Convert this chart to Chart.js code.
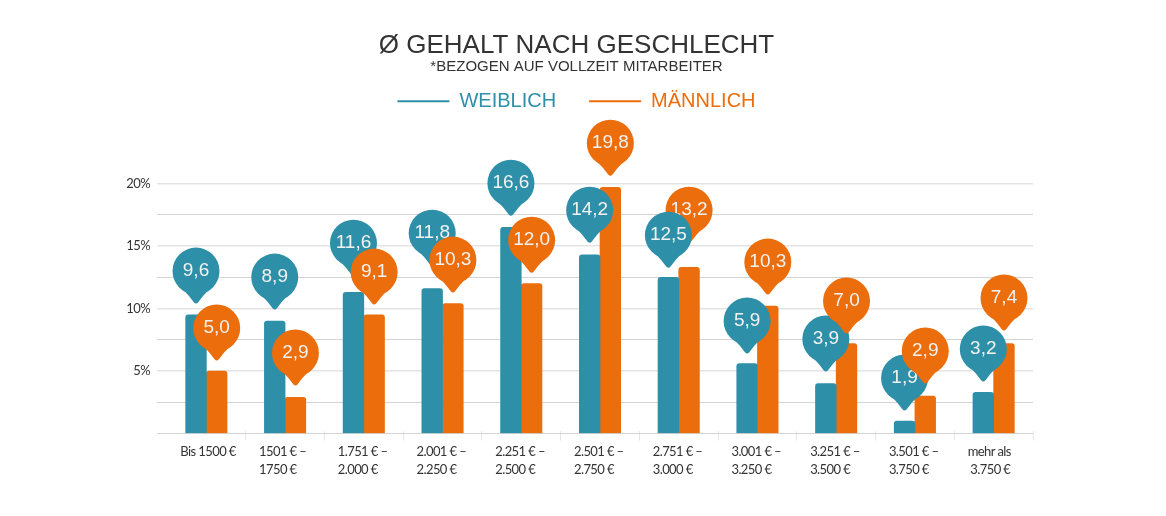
<!DOCTYPE html>
<html><head><meta charset="utf-8">
<style>html,body{margin:0;padding:0;background:#fff}canvas{display:block}</style>
<script src="https://cdn.jsdelivr.net/npm/chart.js@4/dist/chart.umd.min.js"></script>
</head><body>
<canvas id="c" width="1153" height="516"></canvas>
<script>
const categories = [["Bis 1500 €"],["1501 € –","1750 €"],["1.751 € –","2.000 €"],["2.001 € –","2.250 €"],["2.251 € –","2.500 €"],["2.501 € –","2.750 €"],["2.751 € –","3.000 €"],["3.001 € –","3.250 €"],["3.251 € –","3.500 €"],["3.501 € –","3.750 €"],["mehr als","\u00a03.750 €"]];
const weiblichBars = [9.5,9.0,11.3,11.6,16.5,14.3,12.5,5.6,4.0,1.0,3.3];
const maennlichBars = [5.0,2.9,9.5,10.4,12.0,19.7,13.3,10.2,7.2,3.0,7.2];
const weiblichText = ["9,6","8,9","11,6","11,8","16,6","14,2","12,5","5,9","3,9","1,9","3,2"];
const maennlichText = ["5,0","2,9","9,1","10,3","12,0","19,8","13,2","10,3","7,0","2,9","7,4"];
const weiblichPins = [10.36,9.88,12.6,13.4,17.4,15.24,13.24,6.36,4.92,1.8,4.12];
const maennlichPins = [5.8,3.8,10.28,11.24,12.84,20.6,15.24,11.08,7.96,3.96,8.2];
const weiblichOnTop = [6,10];
const BLUE = '#2e8fa9', ORANGE = '#eb6d0b';

function pin(ctx, x, tipY, color, text) {
  const r = 23.5, cy = tipY - 33;
  ctx.save();
  ctx.fillStyle = color;
  ctx.beginPath();
  ctx.arc(x, cy, r, 0, Math.PI * 2);
  ctx.fill();
  ctx.beginPath();
  ctx.moveTo(x - 13, cy + r - 5);
  ctx.quadraticCurveTo(x - 7, cy + r + 1, x - 2, tipY - 1.5);
  ctx.quadraticCurveTo(x, tipY + 0.5, x + 2, tipY - 1.5);
  ctx.quadraticCurveTo(x + 7, cy + r + 1, x + 13, cy + r - 5);
  ctx.closePath();
  ctx.fill();
  ctx.fillStyle = '#f2f2f2';
  ctx.font = '19px "Liberation Sans"';
  ctx.textAlign = 'center';
  ctx.textBaseline = 'middle';
  ctx.fillText(text, x, cy);
  ctx.restore();
}

function narrowLabels(s) {
  if (s._narrowed) return;
  s._narrowed = true;
  const original = s.drawLabels;
  s.drawLabels = function (area) {
    s.ctx.save();
    s.ctx.letterSpacing = '-0.6px';
    original.call(s, area);
    s.ctx.restore();
  };
}

const pinsPlugin = {
  id: 'pins',
  beforeLayout(chart) {
    const legend = chart.legend;
    if (legend && !legend._fitWrapped) {
      legend._fitWrapped = true;
      const fit = legend.fit;
      legend.fit = function () { fit.call(legend); legend.height = 122.5; };
    }
  },
  afterDatasetsDraw(chart) {
    const y = chart.scales.y, ctx = chart.ctx;
    const a = chart.getDatasetMeta(0).data, b = chart.getDatasetMeta(1).data;
    const drawF = i => pin(ctx, a[i].x, y.getPixelForValue(weiblichPins[i]), BLUE, weiblichText[i]);
    const drawM = i => pin(ctx, b[i].x, y.getPixelForValue(maennlichPins[i]), ORANGE, maennlichText[i]);
    categories.forEach((_, i) => {
      if (weiblichOnTop.includes(i)) { drawM(i); drawF(i); } else { drawF(i); drawM(i); }
    });
  }
};

new Chart(document.getElementById('c'), {
  type: 'bar',
  data: {
    labels: categories,
    datasets: [
      { label: 'WEIBLICH', data: weiblichBars, backgroundColor: BLUE, barThickness: 20.7, borderRadius: {topLeft:3,topRight:3}, borderSkipped: 'bottom', yAxisID:'y' },
      { label: 'MÄNNLICH', data: maennlichBars, backgroundColor: ORANGE, barThickness: 20.7, borderRadius: {topLeft:3,topRight:3}, borderSkipped: 'bottom', yAxisID:'y' }
    ]
  },
  plugins: [pinsPlugin],
  options: {
    responsive: false,
    animation: false,
    devicePixelRatio: 1,
    layout: { padding: { top: 30, left: 0, right: 0, bottom: 0 } },
    plugins: {
      tooltip: { enabled: false },
      title: { display: true, text: 'Ø GEHALT NACH GESCHLECHT', color: '#333', font: { family: '"Liberation Sans"', size: 26, weight: 'normal' }, padding: { top: 0, bottom: 0 } },
      subtitle: { display: true, text: '*BEZOGEN AUF VOLLZEIT MITARBEITER', color: '#333', font: { family: '"Liberation Sans"', size: 15, weight: 'normal' }, padding: { top: -3, bottom: -18 } },
      legend: {
        display: true, position: 'top',
        labels: {
          font: { family: '"Liberation Sans"', size: 20 },
          usePointStyle: true, pointStyleWidth: 52, boxHeight: 20, padding: 33,
          generateLabels() {
            return [['WEIBLICH', BLUE, 0], ['MÄNNLICH', ORANGE, 1]].map(([text, c, i]) => ({
              text, fontColor: c, strokeStyle: c, fillStyle: c, lineWidth: 2, pointStyle: 'line', datasetIndex: i, hidden: false
            }));
          }
        }
      }
    },
    scales: {
      x: {
        offset: true,
        afterFit(s) { s.height = 82.5; narrowLabels(s); },
        grid: { drawOnChartArea: false, drawTicks: true, tickLength: 10, color: c => c.index === 0 ? 'rgba(0,0,0,0)' : '#e6e6e6', offset: true },
        border: { display: false },
        ticks: {
          autoSkip: false, maxRotation: 0, minRotation: 0, padding: 2, color: '#333', align: 'start', labelOffset: -26,
          font: { family: 'Lato', size: 13, lineHeight: 1.4 }
        }
      },
      y: {
        min: 0, max: 20,
        afterFit(s) { s.width = 167; narrowLabels(s); },
        border: { display: false },
        grid: {
          tickLength: 10,
          color: c => (c.tick && c.tick.value % 5 === 0 && c.tick.value !== 0) ? '#e4e4e4' : '#d4d4d4',
          lineWidth: c => (c.tick && c.tick.value % 5 === 0 && c.tick.value !== 0) ? 1.5 : 1
        },
        ticks: {
          stepSize: 2.5, padding: 7, color: '#333',
          callback: v => (v % 5 === 0 && v !== 0) ? v + '%' : '',
          font: { family: 'Lato', size: 13 }
        }
      },
      yR: {
        position: 'right', min: 0, max: 20,
        afterFit(s) { s.width = 120; },
        border: { display: false },
        grid: { display: false, drawOnChartArea: false },
        ticks: { display: false }
      }
    }
  }
});
</script>
</body></html>
